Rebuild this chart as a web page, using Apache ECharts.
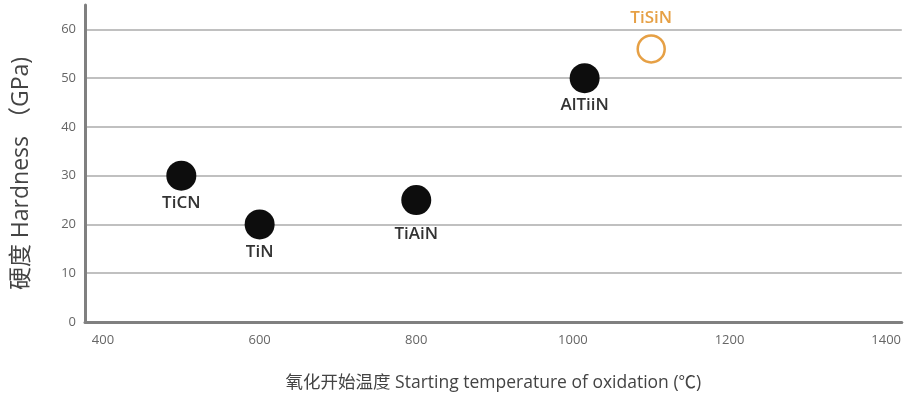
<!DOCTYPE html>
<html>
<head>
<meta charset="utf-8">
<script src="https://cdn.jsdelivr.net/npm/echarts@6/dist/echarts.min.js"></script>
<style>
  html, body { margin: 0; padding: 0; background: #fff; }
  #chart { width: 904px; height: 398px; }
</style>
</head>
<body>
<div id="chart"></div>
<script>
// Coating materials: oxidation onset temperature vs hardness
const materials = ['TiCN', 'TiN', 'TiAiN', 'AlTiiN', 'TiSiN'];
const oxidationTemp = [500, 600, 800, 1015, 1100];   // °C
const hardness = [30, 20, 25, 50, 56];                // GPa
const highlighted = [false, false, false, false, true];

const xTickLabels = [400, 600, 800, 1000, 1200, 1400];

const solidPoints = [];
const hollowPoints = [];
materials.forEach((name, i) => {
  const p = { name: name, value: [oxidationTemp[i], hardness[i]] };
  // the TiAiN caption sits a little lower under its dot
  if (name === 'TiAiN') p.label = { distance: 11 };
  (highlighted[i] ? hollowPoints : solidPoints).push(p);
});

const fontFamily = '"Open Sans", "Noto Sans CJK SC", sans-serif';
const chart = echarts.init(document.getElementById('chart'), null, { renderer: 'canvas' });

chart.setOption({
  animation: false,
  backgroundColor: '#ffffff',
  textStyle: { fontFamily: fontFamily },
  grid: { left: 85, right: 0, top: 5, bottom: 76, containLabel: false },
  xAxis: {
    type: 'value',
    min: 377,
    max: 1420,
    name: '氧化开始温度 Starting temperature of oxidation (℃)',
    nameLocation: 'middle',
    nameGap: 52,
    nameTextStyle: { fontSize: 17.5, color: '#444', fontFamily: fontFamily },
    axisLine: { show: true, lineStyle: { color: '#808080', width: 3 } },
    axisTick: { show: false },
    splitLine: { show: false },
    axisLabel: {
      customValues: xTickLabels,
      formatter: v => String(v),
      fontSize: 13,
      color: '#666',
      margin: 12
    }
  },
  yAxis: {
    type: 'value',
    min: 0,
    max: 65,
    interval: 10,
    name: '硬度 Hardness （GPa)',
    nameLocation: 'middle',
    nameGap: 52,
    nameRotate: 90,
    nameTextStyle: { fontSize: 23, color: '#444', fontFamily: fontFamily, padding: [0, 20, 0, 0] },
    axisLine: { show: true, lineStyle: { color: '#808080', width: 3 } },
    axisTick: { show: false },
    axisLabel: { fontSize: 13, color: '#666', margin: 9, showMaxLabel: false },
    splitLine: {
      show: true,
      showMaxLine: false,
      lineStyle: { color: '#c0c0c0', width: 2 }
    }
  },
  series: [
    {
      type: 'scatter',
      data: solidPoints,
      symbol: 'circle',
      symbolSize: 30,
      itemStyle: { color: '#0d0d0d', opacity: 1 },
      label: {
        show: true,
        position: 'bottom',
        distance: 4,
        formatter: '{b}',
        fontSize: 17,
        fontWeight: 600,
        color: '#333'
      }
    },
    {
      type: 'scatter',
      data: hollowPoints,
      symbol: 'circle',
      symbolSize: 27,
      itemStyle: { color: '#ffffff', borderColor: '#e6a045', borderWidth: 2.5, opacity: 1 },
      label: {
        show: true,
        position: 'top',
        distance: 7,
        formatter: '{b}',
        fontSize: 17,
        fontWeight: 600,
        color: '#e6a045'
      }
    }
  ]
});
</script>
</body>
</html>
